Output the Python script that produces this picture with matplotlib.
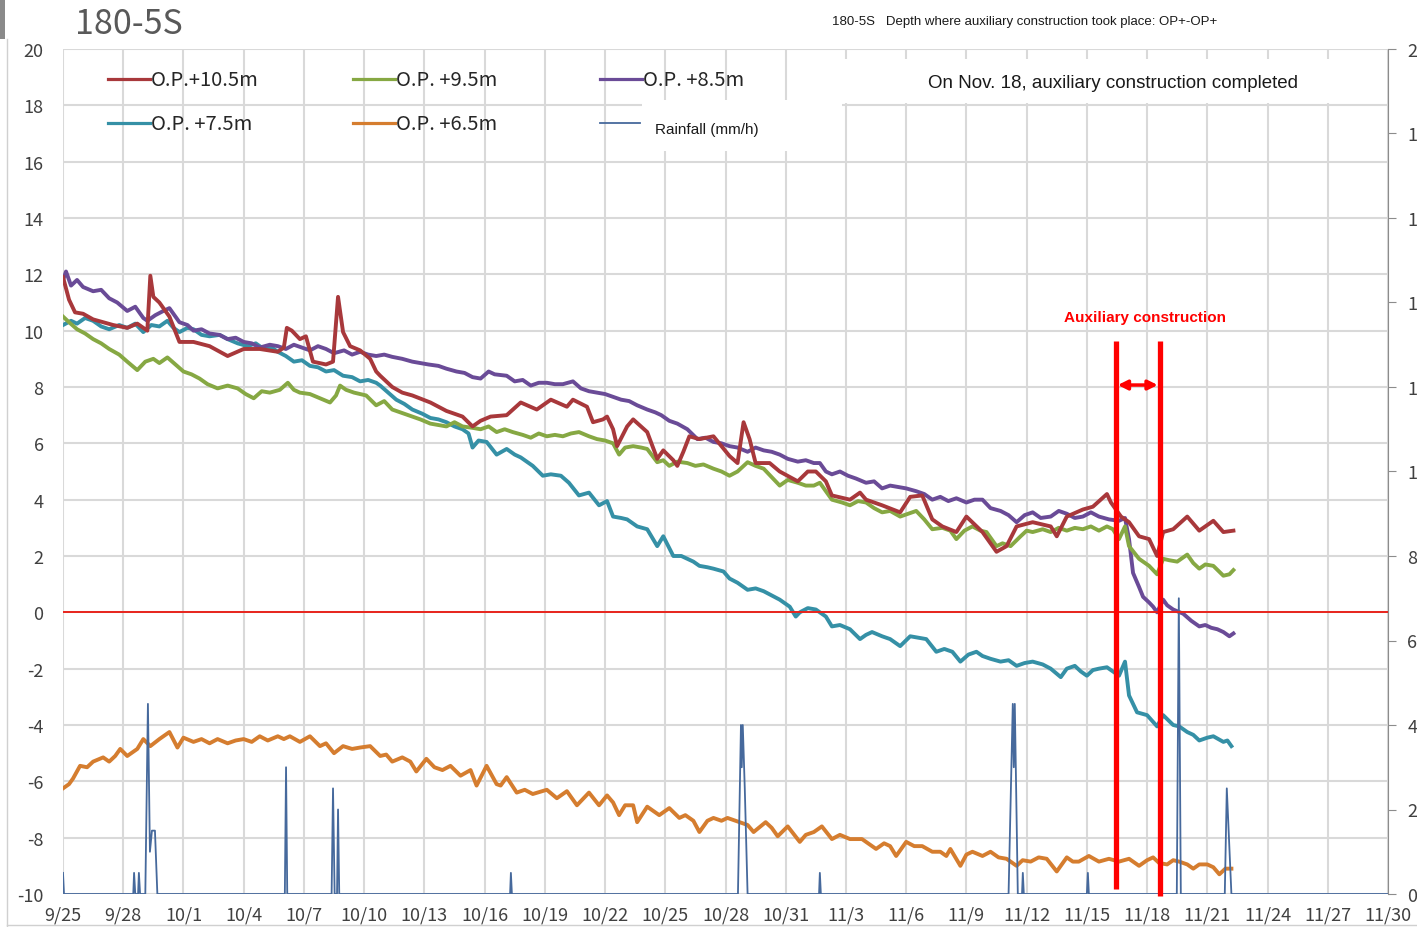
import numpy as np
import matplotlib
matplotlib.use("Agg")
import matplotlib.pyplot as plt
from matplotlib.lines import Line2D
from matplotlib.patches import Rectangle

plt.rcParams["axes.unicode_minus"] = False

# Groundwater level (m) per depth, time in days after 9/25 00:00
red_t = [0.0, 0.15, 0.3, 0.6, 1.0, 1.5, 2.0, 2.5, 3.2, 3.7,
         4.2, 4.35, 4.5, 4.8, 5.3, 5.8, 6.5, 7.3, 8.2, 9.0,
         9.8, 10.7, 11.0, 11.15, 11.4, 11.8, 12.1, 12.45, 13.1, 13.45,
         13.7, 13.95, 14.3, 14.8, 15.3, 15.6, 15.8, 16.4, 16.9, 17.4,
         18.3, 19.1, 19.9, 20.4, 20.8, 21.3, 22.1, 22.8, 23.6, 24.3,
         25.1, 25.4, 26.1, 26.4, 26.9, 27.1, 27.4, 27.6, 28.1, 28.4,
         29.1, 29.6, 29.9, 30.4, 30.6, 30.9, 31.2, 31.7, 32.4, 33.2,
         33.6, 33.9, 34.2, 34.5, 35.2, 35.7, 36.6, 37.1, 37.5, 38.0,
         38.3, 39.2, 39.7, 40.0, 40.8, 41.7, 42.2, 42.8, 43.3, 43.8,
         44.5, 45.0, 45.8, 46.5, 47.0, 47.5, 48.3, 49.2, 49.5, 50.0,
         50.8, 51.3, 52.0, 52.2, 52.7, 53.1, 53.6, 54.1, 54.5, 54.8,
         55.3, 56.0, 56.6, 57.3, 57.8, 58.3]
red_v = [11.9, 11.5, 11.1, 10.65, 10.6, 10.4, 10.3, 10.2, 10.1, 10.25,
         10.0, 11.95, 11.2, 11.0, 10.5, 9.6, 9.6, 9.45, 9.1, 9.35,
         9.35, 9.25, 9.4, 10.1, 10.0, 9.7, 9.8, 8.9, 8.8, 8.9,
         11.2, 9.95, 9.45, 9.3, 9.0, 8.55, 8.4, 8.0, 7.8, 7.7,
         7.45, 7.15, 6.95, 6.6, 6.8, 6.95, 7.0, 7.45, 7.2, 7.55,
         7.3, 7.55, 7.3, 6.75, 6.85, 6.95, 6.5, 5.9, 6.6, 6.85,
         6.4, 5.45, 5.75, 5.4, 5.2, 5.7, 6.25, 6.15, 6.25, 5.55,
         5.3, 6.75, 6.15, 5.3, 5.3, 5.0, 4.65, 5.0, 5.0, 4.65,
         4.15, 4.0, 4.25, 4.0, 3.8, 3.55, 4.1, 4.15, 3.3, 3.05,
         2.85, 3.4, 2.85, 2.15, 2.35, 3.05, 3.2, 3.05, 2.7, 3.4,
         3.65, 3.75, 4.2, 3.9, 3.4, 3.2, 2.7, 2.6, 2.0, 2.85,
         2.95, 3.4, 2.9, 3.25, 2.85, 2.9]

green_t = [0.0, 0.3, 0.7, 1.1, 1.5, 1.9, 2.3, 2.8, 3.2, 3.7,
           4.1, 4.5, 4.8, 5.2, 5.6, 6.0, 6.4, 6.8, 7.2, 7.7,
           8.2, 8.7, 9.1, 9.5, 9.9, 10.3, 10.8, 11.2, 11.5, 11.8,
           12.3, 12.8, 13.3, 13.6, 13.8, 14.1, 14.5, 15.1, 15.6, 16.0,
           16.4, 16.8, 17.4, 17.8, 18.3, 19.1, 19.5, 19.9, 20.4, 20.8,
           21.2, 21.6, 22.0, 22.4, 22.9, 23.3, 23.7, 24.1, 24.5, 24.9,
           25.3, 25.7, 26.2, 26.6, 27.0, 27.4, 27.7, 28.0, 28.4, 28.8,
           29.1, 29.6, 29.9, 30.2, 30.6, 31.1, 31.5, 31.9, 32.4, 32.8,
           33.2, 33.6, 34.1, 34.5, 34.9, 35.3, 35.7, 36.1, 36.6, 37.0,
           37.4, 37.7, 38.0, 38.3, 38.8, 39.2, 39.6, 40.0, 40.4, 40.8,
           41.2, 41.7, 42.1, 42.5, 42.9, 43.3, 43.8, 44.2, 44.5, 44.9,
           45.3, 45.7, 46.0, 46.5, 46.8, 47.2, 47.7, 48.0, 48.3, 48.8,
           49.2, 49.6, 50.0, 50.4, 50.8, 51.2, 51.6, 52.0, 52.3, 52.6,
           52.9, 53.1, 53.6, 54.1, 54.5, 54.8, 55.1, 55.5, 56.0, 56.3,
           56.6, 56.9, 57.3, 57.8, 58.1, 58.3]
green_v = [10.5, 10.3, 10.05, 9.9, 9.7, 9.55, 9.35, 9.15, 8.9, 8.6,
           8.9, 9.0, 8.85, 9.05, 8.8, 8.55, 8.45, 8.3, 8.1, 7.95,
           8.05, 7.95, 7.75, 7.6, 7.85, 7.8, 7.9, 8.15, 7.9, 7.8,
           7.75, 7.6, 7.45, 7.7, 8.05, 7.9, 7.8, 7.7, 7.35, 7.5,
           7.2, 7.1, 6.95, 6.85, 6.7, 6.6, 6.75, 6.6, 6.55, 6.5,
           6.6, 6.4, 6.5, 6.4, 6.3, 6.2, 6.35, 6.25, 6.3, 6.25,
           6.35, 6.4, 6.25, 6.15, 6.1, 6.0, 5.6, 5.85, 5.9, 5.85,
           5.8, 5.33, 5.4, 5.2, 5.35, 5.3, 5.2, 5.25, 5.1, 5.0,
           4.85, 5.0, 5.33, 5.2, 5.1, 4.8, 4.5, 4.7, 4.6, 4.5,
           4.5, 4.6, 4.3, 4.0, 3.9, 3.8, 3.95, 3.9, 3.7, 3.55,
           3.6, 3.4, 3.5, 3.6, 3.3, 2.95, 3.0, 2.9, 2.6, 2.9,
           3.05, 2.9, 2.85, 2.35, 2.45, 2.35, 2.7, 2.9, 2.85, 2.95,
           2.85, 3.0, 2.9, 3.0, 2.95, 3.05, 2.9, 3.05, 2.95, 2.6,
           3.05, 2.35, 1.9, 1.65, 1.35, 1.9, 1.85, 1.8, 2.05, 1.75,
           1.55, 1.7, 1.65, 1.3, 1.35, 1.5]

purple_t = [0.0, 0.15, 0.4, 0.7, 1.0, 1.5, 1.9, 2.3, 2.7, 3.2,
            3.6, 4.0, 4.2, 4.6, 5.0, 5.3, 5.8, 6.2, 6.5, 6.9,
            7.3, 7.8, 8.2, 8.6, 9.0, 9.4, 9.8, 10.3, 10.7, 11.1,
            11.5, 11.9, 12.3, 12.7, 13.1, 13.5, 14.0, 14.4, 14.8, 15.2,
            15.6, 16.0, 16.4, 16.9, 17.4, 17.8, 18.2, 18.7, 19.1, 19.6,
            20.0, 20.4, 20.8, 21.2, 21.5, 22.1, 22.5, 22.9, 23.3, 23.7,
            24.1, 24.5, 24.9, 25.4, 25.8, 26.2, 26.6, 27.0, 27.4, 27.8,
            28.2, 28.6, 29.1, 29.5, 29.8, 30.2, 30.6, 31.1, 31.6, 32.0,
            32.4, 32.8, 33.2, 33.6, 34.1, 34.5, 34.9, 35.3, 35.7, 36.1,
            36.6, 37.0, 37.4, 37.7, 38.0, 38.3, 38.7, 39.1, 39.5, 40.0,
            40.4, 40.8, 41.2, 41.6, 42.0, 42.5, 42.9, 43.3, 43.7, 44.1,
            44.5, 45.0, 45.4, 45.8, 46.2, 46.7, 47.1, 47.5, 47.9, 48.3,
            48.7, 49.2, 49.6, 50.0, 50.4, 50.8, 51.2, 51.6, 52.1, 52.6,
            52.9, 53.1, 53.3, 53.6, 53.8, 54.1, 54.3, 54.5, 54.8, 55.0,
            55.3, 55.8, 56.2, 56.6, 56.9, 57.2, 57.5, 57.8, 58.1, 58.3]
purple_v = [11.8, 12.1, 11.6, 11.8, 11.55, 11.4, 11.45, 11.15, 11.0, 10.7,
            10.85, 10.45, 10.35, 10.55, 10.7, 10.8, 10.3, 10.2, 10.0, 10.05,
            9.9, 9.85, 9.7, 9.75, 9.6, 9.55, 9.4, 9.5, 9.45, 9.35,
            9.5, 9.4, 9.3, 9.45, 9.35, 9.2, 9.3, 9.15, 9.25, 9.15,
            9.1, 9.15, 9.07, 9.0, 8.9, 8.85, 8.8, 8.75, 8.65, 8.55,
            8.5, 8.35, 8.3, 8.55, 8.45, 8.4, 8.2, 8.25, 8.05, 8.15,
            8.15, 8.1, 8.1, 8.2, 7.95, 7.85, 7.8, 7.75, 7.65, 7.55,
            7.5, 7.35, 7.2, 7.1, 7.0, 6.8, 6.7, 6.5, 6.15, 6.2,
            6.05, 6.0, 5.9, 5.85, 5.7, 5.85, 5.75, 5.7, 5.6, 5.45,
            5.35, 5.4, 5.3, 5.3, 5.0, 4.9, 5.0, 4.85, 4.75, 4.6,
            4.65, 4.4, 4.5, 4.45, 4.4, 4.3, 4.2, 4.0, 4.1, 3.95,
            4.05, 3.9, 4.0, 4.0, 3.7, 3.6, 3.45, 3.2, 3.45, 3.55,
            3.35, 3.4, 3.6, 3.5, 3.35, 3.4, 3.55, 3.4, 3.3, 3.25,
            3.35, 2.6, 1.4, 0.9, 0.55, 0.35, 0.2, 0.0, 0.45, 0.25,
            0.1, -0.05, -0.3, -0.5, -0.45, -0.55, -0.6, -0.7, -0.85, -0.75]

teal_t = [0.0, 0.4, 0.7, 1.1, 1.5, 1.9, 2.3, 2.8, 3.2, 3.6,
          4.0, 4.4, 4.8, 5.2, 5.5, 5.8, 6.2, 6.5, 6.9, 7.3,
          7.8, 8.2, 8.7, 9.2, 9.6, 10.0, 10.4, 10.7, 11.1, 11.5,
          11.9, 12.3, 12.7, 13.1, 13.5, 13.95, 14.4, 14.8, 15.2, 15.6,
          15.8, 16.2, 16.6, 17.0, 17.4, 17.9, 18.3, 18.7, 19.1, 19.5,
          19.9, 20.2, 20.4, 20.7, 21.1, 21.6, 22.1, 22.5, 22.8, 23.1,
          23.4, 23.9, 24.3, 24.8, 25.2, 25.7, 26.2, 26.7, 27.1, 27.4,
          27.8, 28.1, 28.6, 29.1, 29.6, 29.9, 30.4, 30.8, 31.1, 31.4,
          31.7, 32.1, 32.4, 32.9, 33.2, 33.6, 34.1, 34.5, 34.9, 35.3,
          35.7, 36.2, 36.5, 36.7, 37.1, 37.5, 38.0, 38.3, 38.7, 39.2,
          39.7, 40.0, 40.3, 40.8, 41.2, 41.7, 42.2, 42.6, 43.0, 43.5,
          43.9, 44.3, 44.7, 45.1, 45.5, 45.8, 46.2, 46.7, 47.1, 47.5,
          47.9, 48.3, 48.8, 49.2, 49.7, 50.0, 50.4, 50.7, 51.0, 51.3,
          51.6, 52.0, 52.3, 52.6, 52.9, 53.1, 53.5, 54.0, 54.5, 54.8,
          55.3, 55.6, 56.0, 56.3, 56.6, 57.0, 57.3, 57.8, 58.0, 58.2]
teal_v = [10.2, 10.35, 10.25, 10.45, 10.35, 10.15, 10.05, 10.2, 10.1, 10.25,
          9.95, 10.2, 10.15, 10.35, 10.1, 9.95, 10.1, 10.05, 9.85, 9.8,
          9.85, 9.7, 9.55, 9.45, 9.55, 9.35, 9.4, 9.25, 9.1, 8.9,
          8.95, 8.75, 8.7, 8.55, 8.6, 8.4, 8.35, 8.2, 8.25, 8.15,
          8.05, 7.8, 7.55, 7.4, 7.2, 7.05, 6.9, 6.85, 6.75, 6.6,
          6.5, 6.35, 5.85, 6.1, 6.05, 5.6, 5.8, 5.6, 5.5, 5.35,
          5.2, 4.85, 4.9, 4.85, 4.6, 4.15, 4.25, 3.8, 3.95, 3.4,
          3.35, 3.3, 3.05, 2.95, 2.35, 2.7, 2.0, 2.0, 1.9, 1.8,
          1.65, 1.6, 1.55, 1.45, 1.2, 1.05, 0.8, 0.85, 0.75, 0.6,
          0.45, 0.2, -0.15, 0.0, 0.15, 0.1, -0.15, -0.5, -0.45, -0.6,
          -0.95, -0.8, -0.7, -0.85, -0.95, -1.2, -0.85, -0.9, -0.95, -1.4,
          -1.3, -1.4, -1.75, -1.5, -1.4, -1.55, -1.65, -1.75, -1.7, -1.9,
          -1.8, -1.75, -1.85, -2.0, -2.3, -2.0, -1.9, -2.1, -2.25, -2.05,
          -2.0, -1.95, -2.1, -2.25, -1.75, -2.95, -3.55, -3.65, -4.05, -3.65,
          -4.0, -4.05, -4.25, -4.35, -4.55, -4.45, -4.4, -4.6, -4.55, -4.75]

orange_t = [0.0, 0.3, 0.5, 0.85, 1.2, 1.5, 2.0, 2.3, 2.6, 2.85,
            3.2, 3.5, 3.7, 4.0, 4.35, 4.8, 5.3, 5.7, 6.0, 6.5,
            6.9, 7.3, 7.7, 8.2, 8.6, 9.0, 9.4, 9.8, 10.2, 10.7,
            11.0, 11.3, 11.8, 12.3, 12.8, 13.1, 13.5, 13.95, 14.4, 14.8,
            15.3, 15.8, 16.1, 16.4, 16.9, 17.3, 17.6, 18.1, 18.5, 18.9,
            19.3, 19.8, 20.3, 20.6, 21.1, 21.6, 21.8, 22.1, 22.6, 23.0,
            23.4, 24.1, 24.6, 25.1, 25.6, 26.2, 26.7, 27.1, 27.4, 27.7,
            28.0, 28.4, 28.6, 29.1, 29.7, 30.2, 30.7, 31.0, 31.4, 31.7,
            32.1, 32.4, 32.8, 33.1, 33.7, 34.1, 34.4, 35.0, 35.3, 35.6,
            36.1, 36.7, 37.0, 37.4, 37.8, 38.3, 38.7, 39.2, 39.8, 40.1,
            40.5, 40.9, 41.2, 41.5, 42.0, 42.4, 42.8, 43.3, 43.7, 44.0,
            44.2, 44.7, 45.0, 45.3, 45.8, 46.2, 46.6, 47.0, 47.5, 47.8,
            48.2, 48.6, 49.0, 49.5, 50.0, 50.3, 50.6, 51.1, 51.6, 52.1,
            52.6, 53.1, 53.6, 54.0, 54.3, 54.6, 55.0, 55.3, 55.6, 56.0,
            56.3, 56.6, 57.0, 57.3, 57.6, 57.9, 58.2]
orange_v = [-6.25, -6.1, -5.9, -5.45, -5.5, -5.3, -5.15, -5.3, -5.1, -4.85,
            -5.1, -4.95, -4.85, -4.5, -4.75, -4.5, -4.25, -4.8, -4.45, -4.6,
            -4.5, -4.65, -4.5, -4.65, -4.55, -4.5, -4.6, -4.4, -4.55, -4.4,
            -4.5, -4.4, -4.6, -4.4, -4.75, -4.65, -5.0, -4.75, -4.85, -4.8,
            -4.75, -5.1, -5.05, -5.3, -5.15, -5.3, -5.65, -5.2, -5.5, -5.6,
            -5.45, -5.8, -5.6, -6.15, -5.45, -6.1, -6.15, -5.85, -6.4, -6.3,
            -6.45, -6.3, -6.6, -6.35, -6.85, -6.4, -6.85, -6.5, -6.75, -7.2,
            -6.85, -6.85, -7.45, -6.9, -7.2, -6.95, -7.3, -7.2, -7.4, -7.8,
            -7.4, -7.3, -7.4, -7.3, -7.45, -7.55, -7.8, -7.45, -7.65, -7.95,
            -7.6, -8.15, -7.9, -7.8, -7.6, -8.05, -7.9, -8.05, -8.05, -8.2,
            -8.4, -8.2, -8.3, -8.65, -8.15, -8.3, -8.3, -8.5, -8.5, -8.65,
            -8.4, -9.0, -8.6, -8.5, -8.65, -8.5, -8.7, -8.75, -9.0, -8.8,
            -8.85, -8.7, -8.75, -9.2, -8.7, -8.85, -8.85, -8.65, -8.85, -8.75,
            -8.85, -8.75, -9.0, -8.8, -8.7, -8.9, -8.95, -8.8, -8.85, -8.95,
            -9.1, -8.95, -8.95, -9.05, -9.3, -9.1, -9.1]

# Hourly rainfall (mm/h), right axis
rain_t = [0.0, 0.05, 3.5, 3.54, 3.6, 3.74, 3.78, 3.84, 4.1, 4.23,
          4.33, 4.43, 4.58, 4.7, 11.05, 11.11, 11.17, 13.38, 13.45, 13.53,
          13.65, 13.7, 13.76, 22.27, 22.31, 22.36, 33.62, 33.77, 33.81, 33.86,
          33.96, 34.1, 37.66, 37.7, 37.75, 47.1, 47.31, 47.36, 47.41, 47.56,
          47.77, 47.81, 47.86, 51.0, 51.05, 51.1, 55.48, 55.58, 55.68, 57.87,
          57.97, 58.2, 66.0]
rain_mm = [0.5, 0, 0, 0.5, 0, 0, 0.5, 0, 0, 4.5,
           1.0, 1.5, 1.5, 0, 0, 3.0, 0, 0, 2.5, 0,
           0, 2.0, 0, 0, 0.5, 0, 0, 4.0, 3.0, 4.0,
           2.5, 0, 0, 0.5, 0, 0, 4.5, 3.0, 4.5, 0,
           0, 0.5, 0, 0, 0.5, 0, 0, 7.0, 0, 0,
           2.5, 0, 0]

date_labels = ["9/25", "9/28", "10/1", "10/4", "10/7", "10/10", "10/13",
               "10/16", "10/19", "10/22", "10/25", "10/28", "10/31", "11/3",
               "11/6", "11/9", "11/12", "11/15", "11/18", "11/21", "11/24",
               "11/27", "11/30"]

# construction window (days after 9/25)
work_start = 52.44
work_end = 54.63

series = [
    ("O.P.+10.5m", red_t, red_v, "#a8383b"),
    ("O.P. +9.5m", green_t, green_v, "#86a843"),
    ("O.P. +8.5m", purple_t, purple_v, "#6a4b97"),
    ("O.P. +7.5m", teal_t, teal_v, "#3590a6"),
    ("O.P. +6.5m", orange_t, orange_v, "#d57d2f"),
]
rain_color = "#46699c"

W, H = 1417, 928
fig = plt.figure(figsize=(W / 100, H / 100), dpi=100)
fig.patch.set_facecolor("white")


def fx(x):
    return x / W


def fy(y):
    return 1 - y / H


ax = fig.add_axes([fx(63), fy(895), fx(1388) - fx(63), fy(50) - fy(895)])
ax2 = ax.twinx()

grid_color = "#d9d9d9"
tick_font = "Noto Sans CJK JP"

# series, drawn back to front
for name, t, v, c in reversed(series):
    ax.plot(t, v, color=c, lw=2.8, solid_joinstyle="round", zorder=3)

ax.set_xlim(0, 66)
ax.set_ylim(-10, 20)
ax.set_yticks(np.arange(-10, 21, 2))
ax.set_xticks(np.arange(0, 67, 3))
ax.set_xticklabels(date_labels)
ax.grid(True, color=grid_color, lw=1.5, zorder=0)
ax.set_axisbelow(True)
for s in ax.spines.values():
    s.set_visible(False)
ax.tick_params(axis="both", length=0, labelsize=13, labelcolor="#404040")
ax.tick_params(axis="y", pad=14)
ax.tick_params(axis="x", pad=8)
for lab in ax.get_xticklabels() + ax.get_yticklabels():
    lab.set_fontfamily(tick_font)

# rainfall on the secondary axis
ax2.plot(rain_t, rain_mm, color=rain_color, lw=1.3, zorder=4)
ax2.set_ylim(0, 20)
ax2.set_yticks(np.arange(0, 21, 2))
for k, s in ax2.spines.items():
    s.set_visible(k == "right")
ax2.spines["right"].set_color("#8c8c8c")
ax2.tick_params(axis="y", length=6, color="#8c8c8c", labelsize=13,
                labelcolor="#404040", pad=8)
for lab in ax2.get_yticklabels():
    lab.set_fontfamily(tick_font)

# zero level
ax2.plot([0, 66], [0, 0], transform=ax.transData, color="#e8241c", lw=1.4,
         zorder=5)

# construction window markers
for x0, y0 in [(work_start, -9.82), (work_end, -10.07)]:
    ax2.plot([x0, x0], [y0, 9.63], transform=ax.transData, color="#ff0000",
             lw=3.8, zorder=6, clip_on=False, solid_capstyle="butt")
ax2.annotate("", xy=(work_start + 0.1, 8.07), xytext=(work_end - 0.1, 8.07),
             xycoords=ax.transData, textcoords=ax.transData,
             arrowprops=dict(arrowstyle="<|-|>", color="#ff0000", lw=2.5,
                             mutation_scale=14, shrinkA=0, shrinkB=0),
             zorder=6)
fig.text(fx(1145), fy(318), "Auxiliary construction", color="#ff0000",
         fontsize=11, fontweight="bold", family="Liberation Sans",
         ha="center", va="center")

# boxes behind the overlay texts
fig.add_artist(Rectangle((fx(642), fy(152)), fx(842) - fx(642),
                         fy(101) - fy(152), transform=fig.transFigure,
                         facecolor="white", edgecolor="none", zorder=2))
fig.add_artist(Rectangle((fx(842), fy(104)), fx(1387) - fx(842),
                         fy(60) - fy(104), transform=fig.transFigure,
                         facecolor="white", edgecolor="none", zorder=2))

# legend
legend_rows = [(80, [0, 1, 2]), (124, [3, 4])]
legend_x = [108, 353, 600]
for y, idx in legend_rows:
    for col, i in enumerate(idx):
        name, _, _, c = series[i]
        x0 = legend_x[col]
        fig.add_artist(Line2D([fx(x0), fx(x0 + 42)], [fy(y), fy(y)],
                              transform=fig.transFigure, color=c, lw=2.3,
                              zorder=3))
        fig.text(fx(x0 + 43), fy(y), name, fontsize=14.5, family=tick_font,
                 color="#262626", ha="left", va="center", zorder=3)
fig.add_artist(Line2D([fx(600), fx(640)], [fy(124), fy(124)],
                      transform=fig.transFigure, color=rain_color, lw=1.3,
                      zorder=3))
fig.text(fx(655), fy(130), "Rainfall (mm/h)", fontsize=11,
         family="Liberation Sans", color="#1a1a1a", ha="left", va="center",
         zorder=3)

fig.text(fx(1113), fy(83), "On Nov. 18, auxiliary construction completed",
         fontsize=13.5, family="Liberation Sans", color="#1a1a1a",
         ha="center", va="center", zorder=3)

# titles
fig.text(fx(75), fy(24), "180-5S", fontsize=24.5, family=tick_font,
         color="#595959", ha="left", va="center")
fig.text(fx(832), fy(22),
         "180-5S   Depth where auxiliary construction took place: OP+-OP+",
         fontsize=9.5, family="Liberation Sans", color="#1a1a1a",
         ha="left", va="center")

# outer chart frame
fig.add_artist(Line2D([fx(7), fx(7)], [fy(40), 0], transform=fig.transFigure,
                      color="#d0d0d0", lw=1))
fig.add_artist(Line2D([fx(7), 1], [fy(926), fy(926)],
                      transform=fig.transFigure, color="#d0d0d0", lw=1))
fig.add_artist(Rectangle((0, fy(40)), fx(5), fy(0) - fy(40),
                         transform=fig.transFigure, facecolor="#8a8a8a",
                         edgecolor="none"))

fig.savefig("out.png", dpi=100)
plt.close(fig)
